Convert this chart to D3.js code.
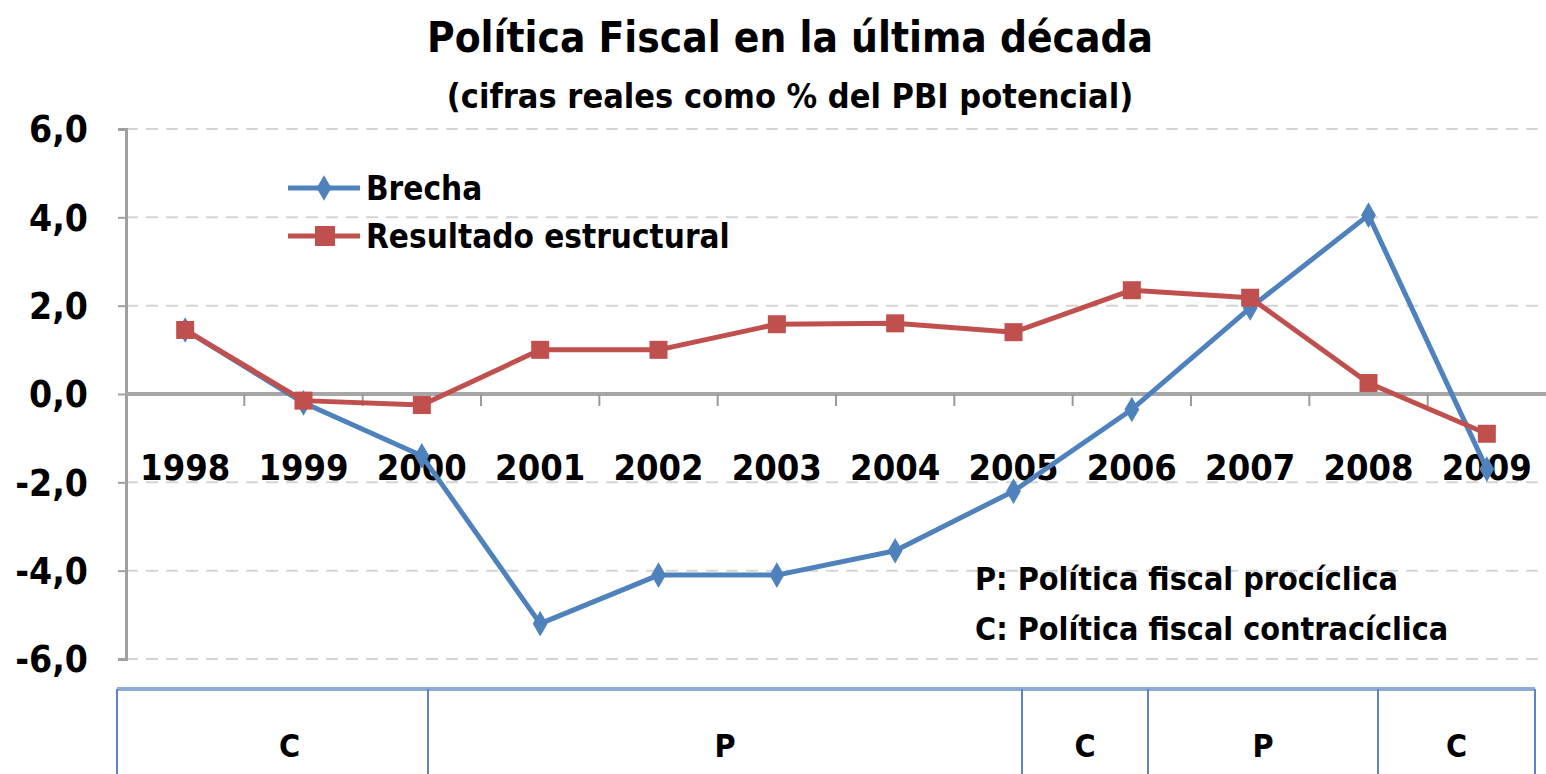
<!DOCTYPE html>
<html>
<head>
<meta charset="utf-8">
<script src="https://cdn.jsdelivr.net/npm/d3@7"></script>
<style>
  body { margin: 0; background: #fff; }
  svg { display: block; }
  text { font-family: "DejaVu Sans", "Liberation Sans", sans-serif; font-stretch: condensed; fill: #000; }
</style>
</head>
<body>
<svg id="chart" width="1546" height="774"></svg>
<script>
// chart data
var years = ["1998", "1999", "2000", "2001", "2002", "2003", "2004", "2005", "2006", "2007", "2008", "2009"];
var brecha = [1.45, -0.2, -1.4, -5.2, -4.1, -4.1, -3.55, -2.2, -0.35, 1.95, 4.05, -1.7];
var resultado = [1.45, -0.15, -0.25, 1.0, 1.0, 1.58, 1.6, 1.4, 2.35, 2.18, 0.25, -0.9];
var yTicks = [6, 4, 2, 0, -2, -4, -6];
var seriesNames = ["Brecha", "Resultado estructural"];
var tableLabels = ["C", "P", "C", "P", "C"];
var notes = ["P: Política fiscal procíclica", "C: Política fiscal contracíclica"];

var svg = d3.select("#chart");
var plotLeft = 126, plotRight = 1546, plotTop = 129, plotBottom = 659;

var x = d3.scaleBand().domain(years).range([plotLeft, plotRight]);
var y = d3.scaleLinear().domain([-6, 6]).range([plotBottom, plotTop]);

// titles
svg.append("text").attr("x", 790).attr("y", 52).attr("text-anchor", "middle")
    .style("font-size", "42px").style("font-weight", "bold")
    .text("Política Fiscal en la última década");
svg.append("text").attr("x", 790).attr("y", 108).attr("text-anchor", "middle")
    .style("font-size", "34px").style("font-weight", "bold")
    .text("(cifras reales como % del PBI potencial)");

// gridlines
svg.append("g").selectAll("line").data(yTicks.filter(function (d) { return d !== 0; }))
    .enter().append("line")
    .attr("x1", plotLeft).attr("x2", plotRight - 6)
    .attr("y1", function (d) { return y(d); }).attr("y2", function (d) { return y(d); })
    .attr("stroke", "#d4d4d4").attr("stroke-width", 2).attr("stroke-dasharray", "12,8");

// y axis
var yAxis = svg.append("g").attr("transform", "translate(" + plotLeft + ",0)")
    .call(d3.axisLeft(y).tickValues(yTicks).tickSize(8)
        .tickFormat(function (d) { return d3.format(".1f")(d).replace(".", ",").replace("−", "-"); }));
yAxis.select(".domain").attr("stroke", "#a0a0a0").attr("stroke-width", 3);
yAxis.selectAll(".tick line").attr("stroke", "#a0a0a0").attr("stroke-width", 2);
yAxis.selectAll(".tick text").attr("x", -38).attr("dy", "0.35em")
    .style("font-size", "37px").style("font-weight", "bold")
    .style("font-family", "'DejaVu Sans', sans-serif");

// zero axis with category ticks
var xAxis = svg.append("g").attr("transform", "translate(0," + y(0) + ")");
xAxis.append("line").attr("x1", plotLeft).attr("x2", plotRight)
    .attr("stroke", "#a6a6a6").attr("stroke-width", 4);
xAxis.selectAll(".ct").data(years.slice(1)).enter().append("line")
    .attr("x1", function (d) { return x(d); }).attr("x2", function (d) { return x(d); })
    .attr("y1", 0).attr("y2", 12)
    .attr("stroke", "#9a9a9a").attr("stroke-width", 2);
xAxis.selectAll(".lbl").data(years).enter().append("text")
    .attr("x", function (d) { return x(d) + x.bandwidth() / 2; })
    .attr("y", 86).attr("text-anchor", "middle")
    .style("font-size", "36px").style("font-weight", "bold")
    .text(function (d) { return d; });

// series
var colors = ["#4f81bd", "#c0504d"];
var seriesData = [brecha, resultado];
var line = d3.line()
    .x(function (d, i) { return x(years[i]) + x.bandwidth() / 2; })
    .y(function (d) { return y(d); });

seriesData.forEach(function (vals, s) {
    svg.append("path").datum(vals).attr("d", line)
        .attr("fill", "none").attr("stroke", colors[s]).attr("stroke-width", 5)
        .attr("stroke-linejoin", "round");
});
// markers
svg.append("g").selectAll("path").data(brecha).enter().append("path")
    .attr("transform", function (d, i) { return "translate(" + (x(years[i]) + x.bandwidth() / 2) + "," + y(d) + ")"; })
    .attr("d", d3.symbol().type(d3.symbolDiamond).size(190))
    .attr("fill", colors[0]);
svg.append("g").selectAll("rect").data(resultado).enter().append("rect")
    .attr("x", function (d, i) { return x(years[i]) + x.bandwidth() / 2 - 9; })
    .attr("y", function (d) { return y(d) - 9; })
    .attr("width", 18).attr("height", 18)
    .attr("fill", colors[1]);

// legend
var legend = svg.append("g").attr("transform", "translate(288,188)");
seriesNames.forEach(function (name, i) {
    var g = legend.append("g").attr("transform", "translate(0," + i * 48 + ")");
    g.append("line").attr("x1", 0).attr("x2", 72).attr("stroke", colors[i]).attr("stroke-width", 5);
    if (i === 0) {
        g.append("path").attr("transform", "translate(36,0)")
            .attr("d", d3.symbol().type(d3.symbolDiamond).size(190)).attr("fill", colors[i]);
    } else {
        g.append("rect").attr("x", 27).attr("y", -10).attr("width", 20).attr("height", 20).attr("fill", colors[i]);
    }
    g.append("text").attr("x", 78).attr("dy", "0.35em")
        .style("font-size", "33px").style("font-weight", "bold")
        .text(name);
});

// notes
svg.append("g").selectAll("text").data(notes).enter().append("text")
    .attr("x", 975).attr("y", function (d, i) { return 590 + i * 50; })
    .style("font-size", "32px").style("font-weight", "bold")
    .text(function (d) { return d; });

// bottom table of policy phases
var tableEdges = [117, 428, 1022, 1148, 1378, 1535];
var tbl = svg.append("g");
tbl.append("line").attr("x1", tableEdges[0]).attr("x2", tableEdges[5])
    .attr("y1", 689).attr("y2", 689).attr("stroke", "#8eaad6").attr("stroke-width", 4);
tbl.selectAll(".v").data(tableEdges).enter().append("line")
    .attr("x1", function (d) { return d; }).attr("x2", function (d) { return d; })
    .attr("y1", 689).attr("y2", 774)
    .attr("stroke", "#5b84c4").attr("stroke-width", 2);
tbl.selectAll("text").data(tableLabels).enter().append("text")
    .attr("x", function (d, i) { return (tableEdges[i] + tableEdges[i + 1]) / 2 + (i === 0 ? 17 : 0); })
    .attr("y", 757).attr("text-anchor", "middle")
    .style("font-size", "32px").style("font-weight", "bold")
    .text(function (d) { return d; });
</script>
</body>
</html>
